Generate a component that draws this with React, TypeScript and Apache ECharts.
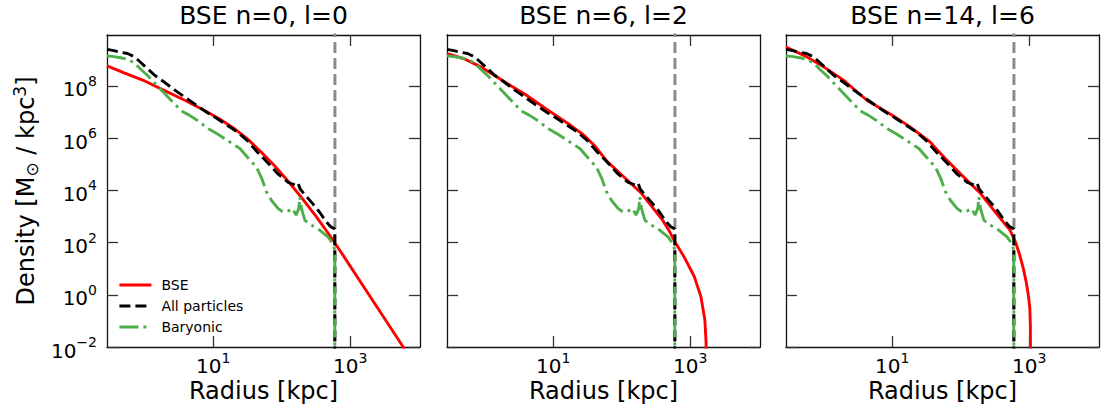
import React, { useEffect, useRef } from "react";
import * as echarts from "echarts";

const FONT = "DejaVu Sans";

// Panel titles
const panelTitles = ["BSE n=0, l=0", "BSE n=6, l=2", "BSE n=14, l=6"];

// All values are [log10(radius / kpc), log10(density / (Msun/kpc^3))]
const allParticles: [number, number][] = [
  [-0.55, 9.4], [-0.45, 9.35], [-0.35, 9.29], [-0.25, 9.24], [-0.17, 9.14], [-0.1, 9.0],
  [0.0, 8.76], [0.15, 8.4], [0.3, 8.12], [0.45, 7.82], [0.6, 7.54], [0.75, 7.27],
  [0.9, 7.0], [1.05, 6.76], [1.2, 6.5], [1.35, 6.24], [1.5, 5.9], [1.65, 5.45],
  [1.8, 5.05], [1.95, 4.62], [2.1, 4.3], [2.2, 4.2], [2.24, 4.28], [2.27, 4.05],
  [2.35, 3.8], [2.45, 3.5], [2.55, 3.18], [2.65, 2.8], [2.72, 2.6], [2.766, 2.54],
  [2.776, 2.5], [2.776, -3.0],
];

const baryonic: [number, number][] = [
  [-0.55, 9.15], [-0.45, 9.12], [-0.35, 9.08], [-0.25, 9.02], [-0.15, 8.88], [-0.05, 8.62],
  [0.05, 8.38], [0.15, 8.1], [0.25, 7.82], [0.35, 7.55], [0.45, 7.27], [0.55, 7.02],
  [0.65, 6.88], [0.78, 6.66], [0.93, 6.36], [1.07, 6.15], [1.22, 5.89], [1.39, 5.6],
  [1.54, 5.15], [1.63, 4.9], [1.71, 4.45], [1.78, 3.94], [1.85, 3.62], [1.95, 3.3],
  [2.02, 3.17], [2.095, 3.21], [2.16, 3.3], [2.21, 3.05], [2.25, 3.3], [2.266, 3.75],
  [2.29, 3.3], [2.34, 2.85], [2.44, 2.66], [2.56, 2.47], [2.68, 2.21], [2.745, 1.96],
  [2.766, 1.8], [2.776, 1.72], [2.776, -3.0],
];

const bseN0L0: [number, number][] = [
  [-0.55, 8.77], [-0.3, 8.5], [0.0, 8.19], [0.3, 7.81], [0.6, 7.43], [0.9, 7.02],
  [1.1, 6.72], [1.3, 6.38], [1.5, 5.97], [1.7, 5.47], [1.9, 4.93], [2.1, 4.33],
  [2.3, 3.69], [2.5, 3.01], [2.7, 2.28], [2.9, 1.5], [3.2, 0.3], [3.5, -0.9],
  [3.77, -1.98], [4.02, -2.98],
];

const bseN6L2: [number, number][] = [
  [-0.55, 9.24], [-0.3, 9.04], [-0.06, 8.73], [0.18, 8.34], [0.4, 7.98], [0.6, 7.66],
  [0.82, 7.26], [1.0, 6.94], [1.25, 6.5], [1.45, 6.11], [1.6, 5.73], [1.79, 5.1],
  [2.03, 4.52], [2.28, 3.91], [2.45, 3.35], [2.6, 2.85], [2.7, 2.42], [2.79, 1.97],
  [2.91, 1.46], [3.06, 0.7], [3.156, -0.06], [3.215, -0.96], [3.232, -1.8], [3.236, -3.0],
];

const bseN14L6: [number, number][] = [
  [-0.55, 9.49], [-0.29, 9.17], [0.0, 8.73], [0.29, 8.22], [0.63, 7.45], [1.0, 6.88],
  [1.26, 6.43], [1.55, 5.86], [1.75, 5.29], [1.99, 4.65], [2.28, 3.91], [2.52, 3.12],
  [2.72, 2.48], [2.8, 2.02], [2.86, 1.55], [2.92, 0.95], [2.96, 0.45], [2.99, -0.05],
  [3.01, -0.5], [3.018, -1.2], [3.021, -3.0],
];

const bseProfiles = [bseN0L0, bseN6L2, bseN14L6];

// virial radius marker (log10 kpc)
const rVirLog = 2.778;

// axis ranges (log10) and tick exponents
const X_MIN = -0.55;
const X_MAX = 4.02;
const Y_MIN = -2;
const Y_MAX = 9.95;
const xTickExps = [1, 3];
const yTickExps = [-2, 0, 2, 4, 6, 8];

const legendNames = ["BSE", "All particles", "Baryonic"];
const xAxisTitle = "Radius [kpc]";

const RED = "#ff0000";
const BLACK = "#000000";
const GREEN = "#4daf4a";
const GREY = "#8a8a8a";

const GRID_LEFTS = [107, 447, 786];
const GRID_TOP = 35;
const GRID_W = 313;
const GRID_H = 312;

const expText = (v: number) => (v < 0 ? "\u2212" + Math.abs(v) : String(v));
const powLabel = (v: number) => `{b|10}{s|${expText(Math.round(v))}}`;

const tickRich = {
  b: { fontSize: 20, fontFamily: FONT, color: "#000", padding: [7, 0, 0, 0] },
  s: { fontSize: 14, fontFamily: FONT, color: "#000", padding: [0, 0, 10, 0] },
};

function buildOption() {
  const grid = GRID_LEFTS.map((l) => ({
    left: l,
    top: GRID_TOP,
    width: GRID_W,
    height: GRID_H,
    containLabel: false,
    outerBoundsMode: "none",
  }));

  const axisLine = { show: true, onZero: false, lineStyle: { color: "#111", width: 1.3 } };
  const tickStyle = { color: "#333", width: 1.3 };

  const xAxis: any[] = [];
  const yAxis: any[] = [];
  GRID_LEFTS.forEach((_, i) => {
    xAxis.push({
      type: "value",
      gridIndex: i,
      position: "bottom",
      min: X_MIN,
      max: X_MAX,
      axisLine,
      splitLine: { show: false },
      axisTick: { show: true, inside: true, length: 11, lineStyle: tickStyle, customValues: xTickExps },
      axisLabel: {
        show: true,
        margin: 2,
        customValues: xTickExps,
        formatter: (v: number) => powLabel(v),
        rich: tickRich,
      },
      name: xAxisTitle,
      nameLocation: "middle",
      nameGap: 32,
      nameMoveOverlap: false,
      nameTextStyle: { fontSize: 24, fontFamily: FONT, color: "#000" },
    });
    xAxis.push({
      type: "value",
      gridIndex: i,
      position: "top",
      min: X_MIN,
      max: X_MAX,
      axisLine,
      splitLine: { show: false },
      axisTick: { show: true, inside: true, length: 11, lineStyle: tickStyle, customValues: xTickExps },
      axisLabel: { show: false },
    });
    yAxis.push({
      type: "value",
      gridIndex: i,
      position: "left",
      min: Y_MIN,
      max: Y_MAX,
      axisLine,
      splitLine: { show: false },
      axisTick: { show: true, inside: true, length: 11, lineStyle: tickStyle, customValues: yTickExps },
      axisLabel: {
        show: i === 0,
        margin: 10,
        customValues: yTickExps,
        formatter: (v: number) => powLabel(v),
        rich: tickRich,
      },
    });
    yAxis.push({
      type: "value",
      gridIndex: i,
      position: "right",
      min: Y_MIN,
      max: Y_MAX,
      axisLine,
      splitLine: { show: false },
      axisTick: { show: true, inside: true, length: 11, lineStyle: tickStyle, customValues: yTickExps },
      axisLabel: { show: false },
    });
  });

  const series: any[] = [];
  GRID_LEFTS.forEach((_, i) => {
    const xi = 2 * i;
    const yi = 2 * i;
    series.push({
      type: "line",
      name: "rvir",
      xAxisIndex: xi,
      yAxisIndex: yi,
      data: [
        [rVirLog, Y_MIN - 1],
        [rVirLog, Y_MAX + 1],
      ],
      symbol: "none",
      silent: true,
      z: 1,
      lineStyle: { color: GREY, width: 3, type: [11, 5] },
    });
    series.push({
      type: "line",
      name: "BSE",
      xAxisIndex: xi,
      yAxisIndex: yi,
      data: bseProfiles[i],
      symbol: "none",
      z: 2,
      lineStyle: { color: RED, width: 2.9 },
      itemStyle: { color: RED },
    });
    series.push({
      type: "line",
      name: "All particles",
      xAxisIndex: xi,
      yAxisIndex: yi,
      data: allParticles,
      symbol: "none",
      z: 3,
      lineStyle: { color: BLACK, width: 2.9, type: [11, 5] },
      itemStyle: { color: BLACK },
    });
    series.push({
      type: "line",
      name: "Baryonic",
      xAxisIndex: xi,
      yAxisIndex: yi,
      data: baryonic,
      symbol: "none",
      z: 4,
      lineStyle: { color: GREEN, width: 2.9, type: [19, 5, 3, 5] },
      itemStyle: { color: GREEN },
    });
  });

  const title = panelTitles.map((t, i) => ({
    text: t,
    left: GRID_LEFTS[i] + GRID_W / 2,
    top: 3,
    textAlign: "center",
    padding: 0,
    textStyle: { fontSize: 25, fontFamily: FONT, color: "#000", fontWeight: "normal" },
  }));

  return {
    animation: false,
    backgroundColor: "#ffffff",
    textStyle: { fontFamily: FONT },
    title,
    grid,
    xAxis,
    yAxis,
    graphic: [
      {
        type: "text",
        x: 26,
        y: GRID_TOP + GRID_H / 2,
        rotation: Math.PI / 2,
        silent: true,
        style: {
          text: "{a|Density [M}{sub|\u2299}{a| / kpc}{sup|3}{a|]}",
          align: "center",
          verticalAlign: "middle",
          fill: "#000",
          font: `24px '${FONT}'`,
          rich: {
            a: { fontSize: 24, fontFamily: FONT, fill: "#000", lineHeight: 32 },
            sub: { fontSize: 17, fontFamily: FONT, fill: "#000", padding: [12, 0, 0, 0] },
            sup: { fontSize: 17, fontFamily: FONT, fill: "#000", padding: [0, 0, 13, 0] },
          },
        },
      },
    ],
    legend: {
      data: legendNames,
      orient: "vertical",
      left: 118,
      top: 278,
      padding: 0,
      itemWidth: 32,
      itemHeight: 14,
      itemGap: 7,
      selectedMode: false,
      itemStyle: { opacity: 0, borderWidth: 0 },
      lineStyle: { width: 2.8 },
      textStyle: { fontSize: 14, fontFamily: FONT, color: "#000", padding: [0, 0, 0, 5] },
    },
    series,
  };
}

export default function App() {
  const ref = useRef<HTMLDivElement>(null);
  useEffect(() => {
    if (!ref.current) return;
    const chart = echarts.init(ref.current, null, { renderer: "svg" });
    chart.setOption(buildOption() as any);
    return () => chart.dispose();
  }, []);
  return (
    <div
      ref={ref}
      style={{ position: "fixed", left: 0, top: 0, width: 1114, height: 412, background: "#fff" }}
    />
  );
}
